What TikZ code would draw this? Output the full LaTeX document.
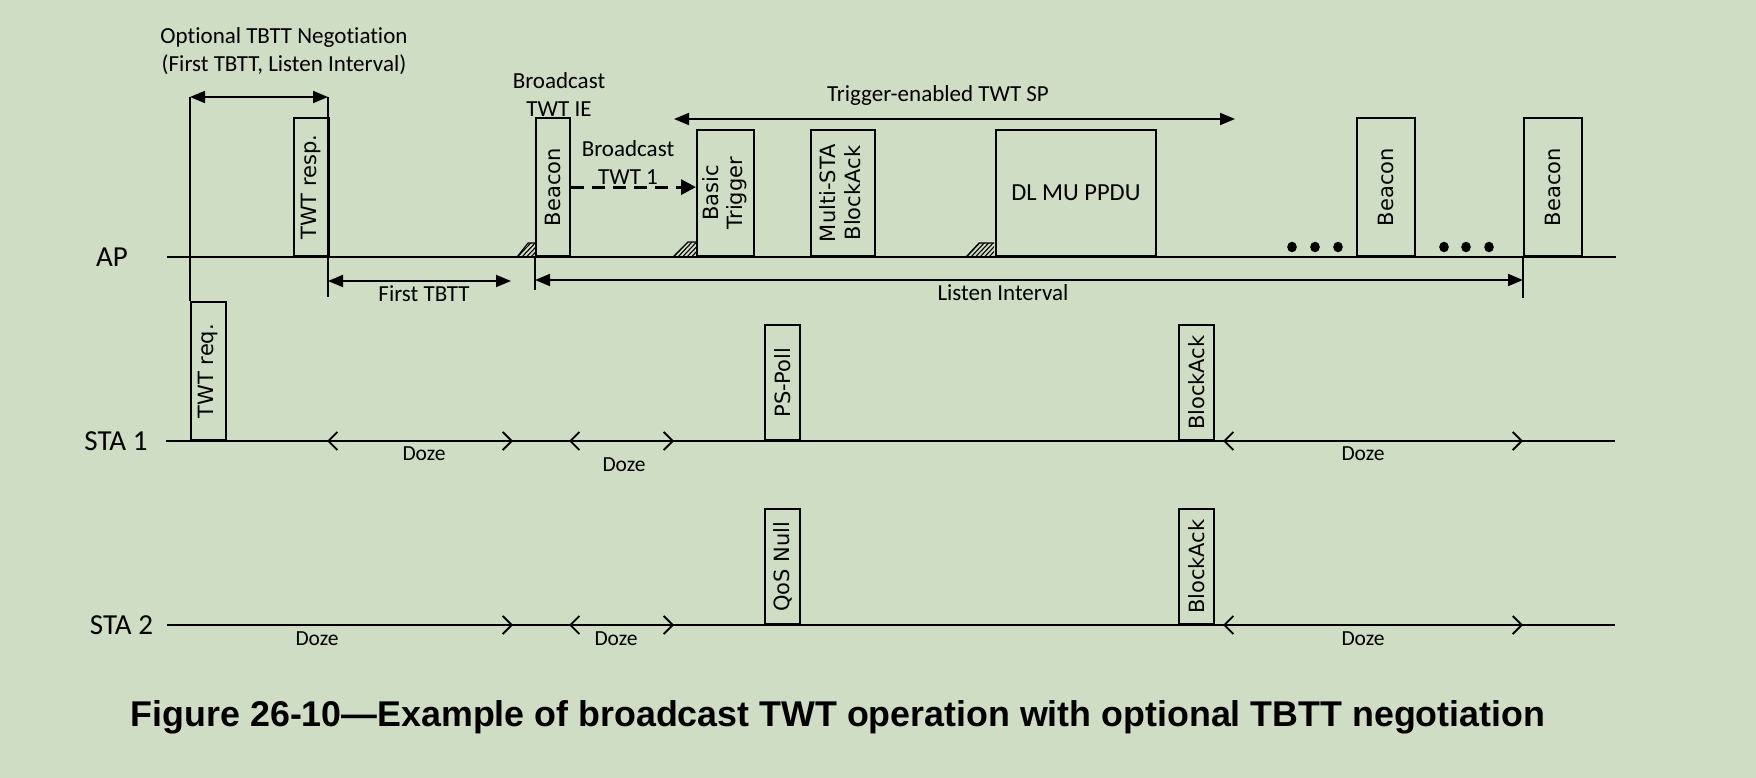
\documentclass[tikz,border=0pt]{standalone}
\usepackage{graphicx}
\usepackage{fontspec}
\setmainfont{Carlito}[Ligatures=NoCommon]
\newfontfamily\boxfont{DejaVu Sans}
\newfontfamily\capfont{Liberation Sans}
\usetikzlibrary{arrows.meta}
\definecolor{bgc}{RGB}{206,221,195}
\tikzset{
  lbl/.style={inner sep=0pt, font=\fontsize{23}{28}\selectfont, align=center},
  lane/.style={inner sep=0pt, font=\fontsize{29}{34}\selectfont},
  dozetxt/.style={inner sep=0pt, font=\fontsize{21.5}{26}\selectfont},
  frame/.style={draw, line width=1.8pt, inner sep=0pt, anchor=south west,
    font=\boxfont\fontsize{21}{24.5}\selectfont},
  axis/.style={line width=1.8pt},
  dbl/.style={line width=1.8pt, {Triangle[length=15pt,width=12pt]}-{Triangle[length=15pt,width=12pt]}},
  doze/.style={line width=2.4pt, {Straight Barb[length=9pt,width=18pt,line width=1.8pt]}-{Straight Barb[length=9pt,width=18pt,line width=1.8pt]}},
  dozeR/.style={line width=2.4pt, -{Straight Barb[length=9pt,width=18pt,line width=1.8pt]}},
}
\begin{document}
\begin{tikzpicture}[x=1pt,y=-1pt]
\fill[bgc] (0,0) rectangle (1756,778);
\useasboundingbox (0,0) rectangle (1756,778);

% lane labels
\node[lane] (apL) at (112,257) {AP};
\node[lane] (s1L) at (116,441) {STA 1};
\node[lane] (s2L) at (121.5,625) {STA 2};

% axes
\coordinate (apS) at (167,257); \coordinate (apE) at (1616,257);
\coordinate (s1S) at (166,441); \coordinate (s1E) at (1615,441);
\coordinate (s2S) at (167,625); \coordinate (s2E) at (1615,625);
\draw[axis] (apS) -- (apE);
\draw[axis] (s1S) -- (s1E);
\draw[axis] (s2S) -- (s2E);

% hatches (drawn before boxes)
\foreach \a/\b/\c/\t in {517/528/535/243, 673/688/696/242, 966/979/994/243}{
  \begin{scope}
    \clip (\a,257) -- (\c,257) -- (\c,\t) -- (\b,\t) -- cycle;
    \foreach \i in {0,...,10} \draw[line width=1.1pt] (\a-14+\i*4.5,258) -- ++(16,-17);
  \end{scope}
  \draw[line width=1.1pt] (\a,257) -- (\b,\t) -- (\c,\t);
}

% AP boxes
\node[frame, minimum width=35pt, minimum height=138pt] (twtresp) at (293,257) {\rotatebox{90}{TWT resp.}};
\node[frame, minimum width=34pt, minimum height=138pt] (bcn1) at (535,257) {\rotatebox{90}{Beacon}};
\node[frame, minimum width=57pt, minimum height=126pt] (trig) at (696,257) {\rotatebox{90}{\begin{tabular}{@{}c@{}}Basic\\Trigger\end{tabular}}};
\node[frame, minimum width=64pt, minimum height=126pt] (msta) at (810,257) {\rotatebox{90}{\begin{tabular}{@{}c@{}}Multi-STA\\BlockAck\end{tabular}}};
\node[frame, minimum width=160pt, minimum height=126pt, font=\fontsize{24.5}{28}\selectfont] (dlmu) at (995,257) {DL MU PPDU};
\node[frame, minimum width=58pt, minimum height=138pt] (bcn2) at (1356,257) {\rotatebox{90}{Beacon}};
\node[frame, minimum width=58pt, minimum height=138pt] (bcn3) at (1523,257) {\rotatebox{90}{Beacon}};

% dots
\foreach \x in {1292,1315,1338,1444,1466,1489} \fill (\x,247) ellipse (4.8pt and 5.3pt);

% STA boxes
\node[frame, minimum width=35pt, minimum height=138pt] (twtreq) at (190,441) {\rotatebox{90}{TWT req.}};
\node[frame, minimum width=35pt, minimum height=115pt] (pspoll) at (764,441) {\rotatebox{90}{PS-Poll}};
\node[frame, minimum width=35pt, minimum height=115pt] (blk1) at (1178,441) {\rotatebox{90}{BlockAck}};
\node[frame, minimum width=35pt, minimum height=115pt] (qos) at (764,625) {\rotatebox{90}{QoS Null}};
\node[frame, minimum width=35pt, minimum height=115pt] (blk2) at (1178,625) {\rotatebox{90}{BlockAck}};

% negotiation
\coordinate (negL) at (190,97);
\coordinate (negR) at (328,97);
\coordinate (negRb) at (328,297);
\draw[axis] (negL) -- (twtreq.north west);
\draw[axis] (negR) -- (negRb);
\draw[dbl] (negL) -- (negR);
\node[lbl] (negT) at (284,51) {Optional TBTT Negotiation\\(First TBTT, Listen Interval)};

% first TBTT
\coordinate (ftL) at (328,281); \coordinate (ftR) at (511,281);
\draw[dbl] (ftL) -- (ftR);
\node[lbl] (ftT) at (424,294) {First TBTT};

% listen interval
\coordinate (liV1) at (535,290); \coordinate (liV2) at (1523,298);
\draw[axis] (bcn1.south west) -- (liV1);
\draw[axis] (bcn3.south west) -- (liV2);
\coordinate (liL) at (535,280); \coordinate (liR) at (1523,280);
\draw[dbl] (liL) -- (liR);
\node[lbl] (liT) at (1003,293) {Listen Interval};

% broadcast TWT IE
\node[lbl] (bieT) at (559,95) {Broadcast\\TWT IE};

% broadcast TWT 1 dashed arrow
\draw[line width=3pt, dash pattern=on 13pt off 8pt, -{Triangle[length=15pt,width=15pt]}] (bcn1.east) -- (bcn1.east -| trig.west);
\node[lbl] (btT) at (628,163) {Broadcast\\TWT 1};

% trigger-enabled TWT SP
\coordinate (tsL) at (674,119); \coordinate (tsR) at (1235,119);
\draw[dbl] (tsL) -- (tsR);
\node[lbl] (tsT) at (938,95) {Trigger-enabled TWT SP};

% doze STA1
\coordinate (d1a) at (327,441); \coordinate (d1b) at (513,441);
\coordinate (d2a) at (569,441); \coordinate (d2b) at (674,441);
\coordinate (d3a) at (1223,441); \coordinate (d3b) at (1523,441);
\draw[doze] (d1a) -- (d1b);
\draw[doze] (d2a) -- (d2b);
\draw[doze] (d3a) -- (d3b);
\node[dozetxt] (d1t) at (424,454) {Doze};
\node[dozetxt] (d2t) at (624,465) {Doze};
\node[dozetxt] (d3t) at (1363,454) {Doze};

% doze STA2
\coordinate (e1b) at (513,625);
\coordinate (e2a) at (569,625); \coordinate (e2b) at (674,625);
\coordinate (e3a) at (1223,625); \coordinate (e3b) at (1523,625);
\draw[dozeR] (s2S) -- (e1b);
\draw[doze] (e2a) -- (e2b);
\draw[doze] (e3a) -- (e3b);
\node[dozetxt] (e1t) at (317,639) {Doze};
\node[dozetxt] (e2t) at (616,639) {Doze};
\node[dozetxt] (e3t) at (1363,639) {Doze};

% caption
\node[inner sep=0pt, font=\capfont\bfseries\fontsize{35.8}{40}\selectfont] (cap) at (838,717) {Figure 26-10—Example of broadcast TWT operation with optional TBTT negotiation};
\end{tikzpicture}
\end{document}
